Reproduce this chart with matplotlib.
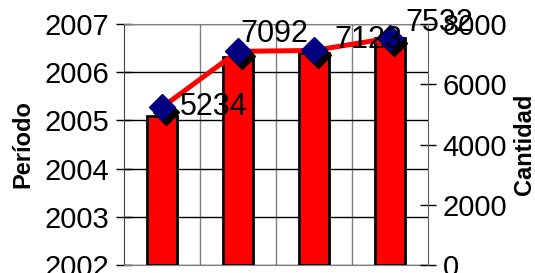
import matplotlib

matplotlib.use('Agg')
import matplotlib.pyplot as plt
import numpy as np

# categories (unnamed in the chart) and their values
categorias = ["1", "2", "3", "4"]
periodo = [2005.1, 2006.32, 2006.39, 2006.71]   # bars, left axis
cantidad = [5234, 7092, 7123, 7532]             # line, right axis
periodo_ticks = [2002, 2003, 2004, 2005, 2006, 2007]
cantidad_ticks = [0, 2000, 4000, 6000, 8000]

# label offsets in pixels (right, up) from each marker
label_offsets = [(18, 0), (2, 17), (20, 10), (15, 15)]

plt.rcParams['font.family'] = ['Liberation Sans', 'DejaVu Sans']

fig = plt.figure(figsize=(5.35, 2.73), dpi=100)
ax = fig.add_axes([124 / 535, 8 / 273, 304 / 535, 241 / 273])
x = np.arange(len(categorias))

base = periodo_ticks[0]
ax.bar(x, np.array(periodo) - base, bottom=base, width=0.4, color='#FF0000',
       edgecolor='black', linewidth=2, zorder=3)
ax.set_xlim(-0.5, len(categorias) - 0.5)
ax.set_ylim(periodo_ticks[0], periodo_ticks[-1])
ax.set_yticks(periodo_ticks)
ax.set_xticks([])
ax.set_xticks(x[:-1] + 0.5, minor=True)
ax.tick_params(axis='x', which='minor', length=0)
ax.grid(True, axis='y', color='black', linewidth=1, zorder=0)
ax.grid(True, axis='x', which='minor', color='#808080', linewidth=1, zorder=0)
ax.tick_params(axis='y', direction='inout', length=11, width=1, labelsize=21, pad=5)
ax.set_ylabel("Período", fontsize=17, fontweight='bold')
ax.yaxis.set_label_coords(-0.295, 0.5)
for s in ['top', 'bottom']:
    ax.spines[s].set_color('#808080')
ax.spines['right'].set_visible(False)
ax.spines['left'].set_color('#404040')

ax2 = ax.twinx()
ax2.set_ylim(cantidad_ticks[0], cantidad_ticks[-1])
ax2.set_yticks(cantidad_ticks)
ax2.tick_params(axis='y', direction='inout', length=11, width=1, labelsize=21, pad=5)
ax2.set_ylabel("Cantidad", fontsize=17, fontweight='bold', rotation=90)
ax2.yaxis.set_label_coords(1.28, 0.5)
for s in ['top', 'bottom', 'left']:
    ax2.spines[s].set_visible(False)
ax2.spines['right'].set_color('#606060')

ax2.plot(x, cantidad, color='#FF0000', linewidth=3.6, zorder=3)
shadow = matplotlib.transforms.offset_copy(ax2.transData, fig=fig, x=4, y=-5, units='dots')
ax2.plot(x, cantidad, linestyle='none', marker='D', markersize=13, color='black',
         transform=shadow, zorder=4)
ax2.plot(x, cantidad, linestyle='none', marker='D', markersize=13, color='#000080',
         zorder=5)
for xi, v, (dx, dy) in zip(x, cantidad, label_offsets):
    ax2.annotate(str(v), (xi, v), xytext=(dx * 0.72, dy * 0.72), textcoords='offset points',
                 ha='left', va='center', fontsize=22, zorder=6)

fig.savefig("out.png", dpi=100)
